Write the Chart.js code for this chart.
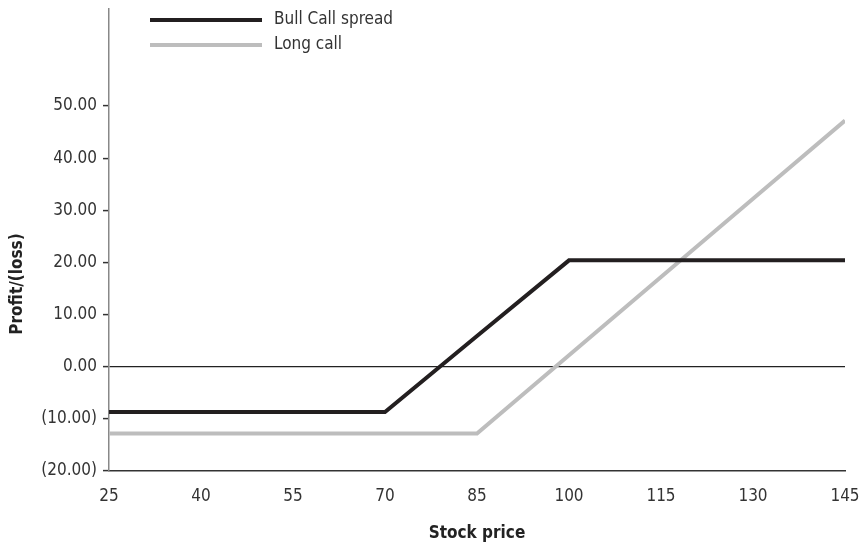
<!DOCTYPE html>
<html>
<head>
<meta charset="utf-8">
<script src="https://cdn.jsdelivr.net/npm/chart.js@4.4.1/dist/chart.umd.min.js"></script>
<style>
  html, body { margin: 0; padding: 0; background: #fff; }
  #wrap { width: 867px; height: 544px; position: relative; }
</style>
</head>
<body>
<div id="wrap"><canvas id="chart"></canvas></div>
<script>
// stock prices on the x axis
const prices = [25, 40, 55, 70, 85, 100, 115, 130, 145];
// profit/(loss)
const bullCallSpread = [-8.7, -8.7, -8.7, -8.7, 5.9, 20.4, 20.4, 20.4, 20.4];
const longCall = [-12.8, -12.8, -12.8, -12.8, -12.8, 2.2, 17.2, 32.2, 47.2];
const seriesLabels = ['Bull Call spread', 'Long call'];
const yTitle = 'Profit/(loss)';
const xTitle = 'Stock price';

const narrow = "'Liberation Sans Narrow', 'DejaVu Sans Condensed', 'Roboto', sans-serif";
const textColor = '#333';

const toPoints = (vals) => prices.map((p, i) => ({ x: p, y: vals[i] }));

const fmtMoney = (v) => {
    const s = Math.abs(v).toFixed(2);
    return v < 0 ? '(' + s + ')' : s;
};

// legend inside the plot (top left, stacked) + y title sitting a bit low like the original
const extras = {
    id: 'extras',
    afterDraw(chart) {
        const ctx = chart.ctx;
        const x0 = 150, x1 = 262;
        ctx.save();
        ctx.font = '17px ' + narrow;
        ctx.textBaseline = 'middle';
        chart.data.datasets.forEach((ds, i) => {
            const y = 20 + i * 25;
            ctx.strokeStyle = ds.borderColor;
            ctx.lineWidth = 4;
            ctx.beginPath();
            ctx.moveTo(x0, y);
            ctx.lineTo(x1, y);
            ctx.stroke();
            ctx.fillStyle = textColor;
            ctx.fillText(ds.label, x1 + 12, y);
        });

        ctx.translate(18, 284);
        ctx.rotate(-Math.PI / 2);
        ctx.font = 'bold 17px ' + narrow;
        ctx.textAlign = 'center';
        ctx.fillStyle = '#222';
        ctx.fillText(yTitle, 0, 0);
        ctx.restore();
    }
};

new Chart(document.getElementById('chart'), {
    type: 'line',
    data: {
        datasets: [
            {
                label: seriesLabels[0],
                data: toPoints(bullCallSpread),
                borderColor: '#231f20',
                borderWidth: 4,
                pointRadius: 0,
                tension: 0,
            },
            {
                label: seriesLabels[1],
                data: toPoints(longCall),
                borderColor: '#bdbdbd',
                borderWidth: 4,
                pointRadius: 0,
                tension: 0,
            }
        ]
    },
    options: {
        responsive: true,
        maintainAspectRatio: false,
        animation: false,
        layout: { padding: { top: 9, right: 0, left: 0, bottom: 0 } },
        scales: {
            x: {
                type: 'linear',
                min: 25,
                max: 145,
                afterFit: (s) => { s.height = 73; s.paddingRight = 22; },
                ticks: {
                    stepSize: 15,
                    color: textColor,
                    font: { family: narrow, size: 17 },
                    padding: 15,
                },
                grid: { display: false, drawTicks: false },
                border: { color: '#333', width: 1.5 },
                title: {
                    display: true,
                    text: xTitle,
                    color: '#222',
                    font: { family: narrow, size: 17, weight: 'bold' },
                    padding: { top: 8, bottom: 0 },
                },
            },
            y: {
                min: -20,
                max: 68.6,
                afterFit: (s) => { s.width = 109; s.paddingTop = 0; s.paddingBottom = 0; },
                ticks: {
                    stepSize: 10,
                    color: textColor,
                    font: { family: narrow, size: 17 },
                    padding: 6,
                    callback: (v) => (v > 50 ? null : fmtMoney(v)),
                },
                grid: {
                    drawOnChartArea: true,
                    drawTicks: true,
                    tickLength: 6,
                    tickColor: '#333',
                    tickWidth: 1.5,
                    lineWidth: 1.2,
                    color: (c) => (c.tick && c.tick.value === 0 ? '#222' : 'rgba(0,0,0,0)'),
                },
                border: { color: '#888', width: 1.5 },
                title: { display: false },
            },
        },
        plugins: {
            legend: { display: false },
            tooltip: { enabled: false },
        },
    },
    plugins: [extras],
});
</script>
</body>
</html>
